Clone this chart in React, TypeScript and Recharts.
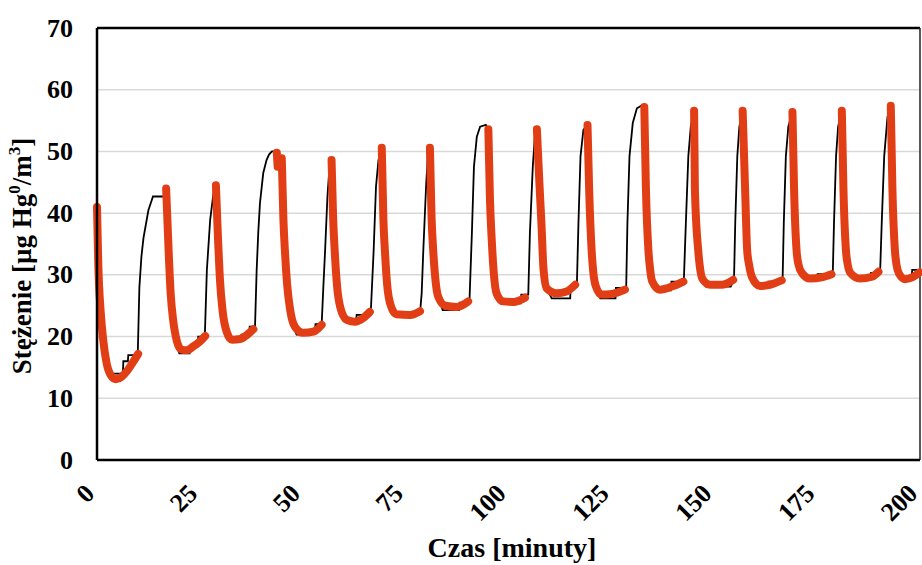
import React from 'react';
import { LineChart, Line, XAxis, YAxis, CartesianGrid, ReferenceLine } from 'recharts';

const xTicks = [0, 25, 50, 75, 100, 125, 150, 175, 200];
const yTicks = [0, 10, 20, 30, 40, 50, 60, 70];

// measured concentration (black line): [time in min, concentration]
const measuredPoints: [number, number][] = [
  [0, 40], [0.3, 31], [0.9, 23], [1.5, 18.5], [2.2, 15.8], [3.2, 14], [6.3, 14], [6.4, 16], [7.5, 16], [7.6, 17], [9.9, 17],
  [10.3, 28], [10.8, 33], [11.3, 36], [12.5, 40.5], [13.3, 42.1], [13.6, 42.7], [16.5, 42.7], [16.8, 44],
  [17.4, 34], [17.9, 27], [18.5, 22.5], [19.3, 19], [20, 17.3], [22.5, 17.3], [22.6, 18.5], [24.5, 18.5], [24.6, 20], [26.2, 20],
  [26.7, 30.8], [27.5, 38.9], [28.3, 43.2], [28.9, 44.5],
  [29.4, 36], [29.9, 29], [30.5, 24], [31.3, 20.5], [32.2, 19.3], [35, 19.3], [35.1, 20.3], [37, 20.3], [37.1, 21.6], [38.4, 21.6],
  [38.8, 30.8], [39.2, 37], [39.6, 41.6], [40.4, 46.5], [41.2, 48.6], [41.8, 49.5], [42.5, 50], [43.4, 50],
  [43.7, 49.8], [44.2, 47], [44.9, 48.9],
  [45.3, 39], [45.7, 33.5], [46.2, 28.5], [46.9, 24.5], [47.8, 21.5], [48.5, 20.3], [52, 20.3], [52.1, 21], [53, 21], [53.1, 22], [54.6, 22],
  [55, 28], [55.4, 33.5], [56, 42.7], [56.5, 47.5], [57, 48.6],
  [57.4, 38.9], [57.8, 33.5], [58.3, 28.5], [59.1, 24.8], [60, 22.8], [63, 22.8], [63.1, 23.5], [66.5, 23.5],
  [67.2, 33.5], [67.8, 44.3], [68.4, 48.6], [69.2, 50.6],
  [69.6, 38.9], [70, 33.5], [70.5, 28.5], [71.4, 25], [72.5, 23.8], [78.5, 23.8],
  [78.9, 27], [79.3, 34], [80, 44.8], [80.5, 50.2], [80.9, 50.6],
  [81.3, 39.4], [81.7, 34], [82.2, 29.5], [82.9, 26.5], [84, 24.3], [88, 24.3], [88.1, 25.5], [90.5, 25.5],
  [91.1, 36.7], [91.6, 47.5], [92.3, 52.4], [93.1, 54], [94.5, 54.3], [95.1, 53.6],
  [95.5, 42.1], [95.9, 36], [96.4, 30.5], [97.1, 27], [98.5, 25.4], [103, 25.4], [103.1, 26.8], [104.8, 26.8],
  [105.2, 36.7], [105.9, 47.5], [106.4, 52.4], [106.9, 53.6],
  [107.5, 45], [108, 38.4], [108.5, 31], [109.3, 27.8], [110.5, 26.2], [115, 26.2], [115.1, 28], [116.6, 28],
  [117, 38.4], [117.5, 49.2], [118.2, 53.5], [119.2, 54.3],
  [119.6, 43.8], [120.2, 34], [120.6, 30.5], [121.2, 28.2], [122.3, 26.2], [126, 26.2], [126.1, 27.9], [128.6, 27.9],
  [128.9, 38.4], [129.4, 49.2], [130.2, 54.6], [131.2, 57], [132.5, 57.5], [133, 57.2],
  [133.4, 43.8], [134, 34], [134.4, 31], [134.9, 29], [136, 27.5], [139.5, 27.5], [139.6, 28.9], [142.6, 28.9],
  [143.1, 38.4], [143.7, 49.2], [144.3, 54], [145.1, 56.6],
  [145.3, 43.8], [146.1, 34], [146.5, 31.3], [147.1, 29.4], [148, 28.1], [154, 28.1], [154.8, 29.2],
  [155.1, 38.4], [155.6, 49.2], [156.1, 54], [156.9, 56.6],
  [157.5, 43.8], [158, 34], [158.5, 31.5], [159.2, 29.6], [160.5, 28.1], [163, 28.1], [163.1, 28.9], [166.6, 28.9],
  [166.9, 38.4], [167.4, 49.2], [168, 54], [169, 56.4],
  [169.4, 43.8], [170, 34], [170.5, 31.6], [171.3, 30.3], [172.5, 29.6], [175, 29.6], [175.1, 30.1], [178.8, 30.1],
  [179.1, 38.4], [179.6, 49.2], [180.1, 54], [181, 56.6],
  [181.4, 43.8], [182, 34], [182.4, 31.8], [183.1, 30.3], [184.5, 29.2], [188, 29.2], [188.1, 30.3], [190.3, 30.3],
  [190.7, 38.4], [191.3, 49.2], [192.1, 55.6], [192.9, 57.4],
  [193.3, 43.8], [193.9, 34], [194.3, 31.6], [194.9, 30.2], [196, 29.5], [198, 29.5], [198.1, 30.8], [200, 30.8],
];

// model curves (red): segments separated by null
const modelPoints: [number, number | null][] = [
  [0, 41], [0.3, 32], [0.9, 24], [1.5, 19.5], [2.3, 15.8], [3.3, 13.8], [4.6, 13.1], [6, 13.5], [7.5, 14.6], [8.8, 15.9], [10, 17.2],
  [13, null],
  [16.8, 44], [17.4, 34], [17.9, 27], [18.5, 22.7], [19.4, 19.3], [20.5, 17.9], [21.8, 17.8], [23.4, 18.4], [25, 19.2], [26.3, 20.1],
  [27.5, null],
  [28.9, 44.5], [29.4, 36], [29.9, 29], [30.5, 24.3], [31.5, 20.8], [32.8, 19.5], [34.8, 19.6], [36.5, 20.3], [38, 21.2],
  [40, null],
  [43.7, 49.8], [43.9, 47.5],
  [44.4, null],
  [44.9, 48.9], [45.3, 39], [45.7, 33.5], [46.2, 28.5], [46.9, 24.5], [48.1, 21.6], [50.1, 20.6], [52.6, 20.8], [54.6, 21.9],
  [56, null],
  [57, 48.6], [57.4, 38.9], [57.8, 33.5], [58.3, 28.5], [59.1, 24.8], [60.7, 22.7], [62.7, 22.4], [64.7, 23], [66.3, 24],
  [68, null],
  [69.2, 50.6], [69.6, 38.9], [70, 33.5], [70.5, 28.5], [71.4, 25], [72.8, 23.6], [76.1, 23.5], [78.5, 24.1],
  [80, null],
  [80.9, 50.6], [81.3, 39.4], [81.7, 34], [82.2, 29.5], [82.9, 26.5], [84.6, 25], [87.4, 24.8], [90.2, 25.7],
  [92, null],
  [95.1, 53.6], [95.5, 42.1], [95.9, 36], [96.4, 30.5], [97.1, 27], [98.7, 25.7], [101.2, 25.6], [104, 26.3],
  [105.5, null],
  [106.9, 53.6], [107.5, 45], [108, 38.4], [108.5, 31], [109.3, 27.8], [111.7, 27], [114.1, 27.3], [116.2, 28.4],
  [118, null],
  [119.2, 54.3], [119.6, 43.8], [120.2, 34], [120.6, 30.5], [121.2, 28.2], [122.6, 26.8], [125.1, 26.9], [128.3, 27.6],
  [130, null],
  [133, 57.2], [133.4, 43.8], [134, 34], [134.4, 31], [134.9, 29], [136.8, 27.6], [139.7, 28.1], [142.5, 28.9],
  [144, null],
  [145.1, 56.6], [145.3, 43.8], [146.1, 34], [146.5, 31.3], [147.1, 29.4], [149, 28.4], [151.8, 28.4], [154.6, 29.2],
  [156, null],
  [156.9, 56.6], [157.5, 43.8], [158, 34], [158.5, 31.5], [159.2, 29.6], [161.1, 28.2], [163.5, 28.4], [166.4, 29.1],
  [168, null],
  [169, 56.4], [169.4, 43.8], [170, 34], [170.5, 31.6], [171.3, 30.3], [173.3, 29.4], [176.1, 29.6], [178.5, 30.1],
  [180, null],
  [181, 56.6], [181.4, 43.8], [182, 34], [182.4, 31.8], [183.1, 30.3], [185.4, 29.4], [188.3, 29.7], [189.9, 30.5],
  [191.5, null],
  [192.9, 57.4], [193.3, 43.8], [193.9, 34], [194.3, 31.6], [194.9, 30.2], [196.4, 29.3], [198.4, 29.7], [199.9, 30.4],
];

const measured = measuredPoints.map(([t, c]) => ({ t, c }));
const model = modelPoints.map(([t, c]) => ({ t, c }));

const FONT = '"Liberation Serif", "Times New Roman", serif';

const YTick = (props: any) => {
  const { x, y, payload } = props;
  return (
    <text x={x - 24} y={y} textAnchor="end" dominantBaseline="central" fontFamily={FONT} fontWeight="bold" fontSize={26} fill="#000">
      {payload.value}
    </text>
  );
};

const XTick = (props: any) => {
  const { x, y, payload } = props;
  const ax = x - 7;
  const ay = y + 29;
  return (
    <text x={ax} y={ay} textAnchor="end" dominantBaseline="central" transform={`rotate(-45, ${ax}, ${ay})`} fontFamily={FONT} fontWeight="bold" fontSize={26} fill="#000">
      {payload.value}
    </text>
  );
};

const YTitle = () => (
  <text transform="translate(31, 256) rotate(-90)" textAnchor="middle" fontFamily={FONT} fontWeight="bold" fontSize={27} fill="#000">
    Stężenie [µg Hg<tspan dy={-11} fontSize={17}>0</tspan><tspan dy={11}>/m</tspan><tspan dy={-11} fontSize={17}>3</tspan><tspan dy={11}>]</tspan>
  </text>
);

const XTitle = () => (
  <text x={512} y={557} textAnchor="middle" fontFamily={FONT} fontWeight="bold" fontSize={28} fill="#000">
    Czas [minuty]
  </text>
);

export default function App() {
  return (
    <div style={{ position: 'absolute', left: 0, top: 0, width: 922, height: 565, background: '#fff' }}>
      <LineChart width={922} height={565} margin={{ top: 28, right: 2, left: 0, bottom: 0 }}>
        <CartesianGrid horizontal={true} vertical={false} stroke="#d9d9d9" strokeWidth={1.5} />
        <XAxis
          dataKey="t"
          type="number"
          domain={[0, 200]}
          ticks={xTicks}
          interval={0}
          height={105}
          tickSize={0}
          tickMargin={0}
          tickLine={false}
          axisLine={{ stroke: '#000', strokeWidth: 2.5 }}
          tick={<XTick />}
          label={{ content: () => <XTitle /> }}
          allowDuplicatedCategory={false}
        />
        <YAxis
          type="number"
          domain={[0, 70]}
          ticks={yTicks}
          interval={0}
          width={97}
          tickSize={0}
          tickMargin={0}
          tickLine={false}
          axisLine={{ stroke: '#000', strokeWidth: 2.5 }}
          tick={<YTick />}
          label={{ content: () => <YTitle /> }}
        />
        <ReferenceLine y={70} stroke="#000" strokeWidth={2.5} />
        <ReferenceLine x={200} stroke="#222" strokeWidth={1.5} />
        <Line
          data={measured}
          dataKey="c"
          type="linear"
          stroke="#000"
          strokeWidth={1.8}
          dot={false}
          activeDot={false}
          isAnimationActive={false}
        />
        <Line
          data={model}
          dataKey="c"
          type="monotone"
          stroke="#E23E15"
          strokeWidth={8}
          strokeLinecap="round"
          strokeLinejoin="round"
          dot={false}
          activeDot={false}
          connectNulls={false}
          isAnimationActive={false}
        />
      </LineChart>
    </div>
  );
}
